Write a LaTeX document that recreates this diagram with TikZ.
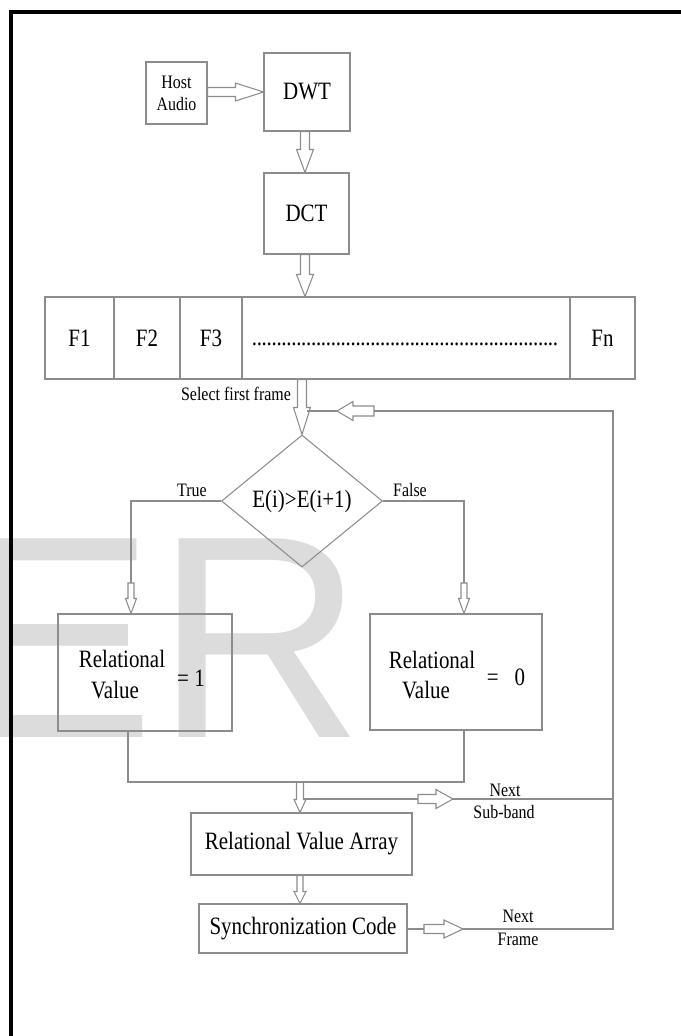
\documentclass[tikz,border=0pt]{standalone}
\usepackage{fontspec}
\setmainfont{Liberation Serif}[FakeStretch=0.84]
\newfontfamily\wmfont{Liberation Sans}
\usetikzlibrary{shapes.geometric,calc}
\newdimen\pxu \pxu=0.02cm
\definecolor{lineclr}{RGB}{140,140,140}
\definecolor{wmclr}{RGB}{220,220,220}
\newcommand\bigf{\fontsize{14.2pt}{17pt}\selectfont}
\newcommand\smallf{\fontsize{10.8pt}{12.5pt}\selectfont}
\newcommand\dotrow{\makebox[306\pxu]{\xleaders\hbox to 4.9\pxu{\hss.\hss}\hfill}}
% hollow block arrows: #1 start, #2 tip, #3 shaft half width, #4 head half width, #5 head length
\newcommand\darr[5]{\draw[blk] ($(#1)+(-#3,0)$) -- ($(#2)+(-#3,-#5)$) -- ($(#2)+(-#4,-#5)$) -- (#2) -- ($(#2)+(#4,-#5)$) -- ($(#2)+(#3,-#5)$) -- ($(#1)+(#3,0)$) -- cycle;}
\newcommand\rarr[5]{\draw[blk] ($(#1)+(0,-#3)$) -- ($(#2)+(-#5,-#3)$) -- ($(#2)+(-#5,-#4)$) -- (#2) -- ($(#2)+(-#5,#4)$) -- ($(#2)+(-#5,#3)$) -- ($(#1)+(0,#3)$) -- cycle;}
\newcommand\larr[5]{\draw[blk] ($(#1)+(0,-#3)$) -- ($(#2)+(#5,-#3)$) -- ($(#2)+(#5,-#4)$) -- (#2) -- ($(#2)+(#5,#4)$) -- ($(#2)+(#5,#3)$) -- ($(#1)+(0,#3)$) -- cycle;}
\tikzset{
  sz/.style 2 args={minimum width=#1*0.02cm, minimum height=#2*0.02cm},
  box/.style={draw=lineclr, line width=0.6pt, rectangle, inner sep=0pt, text=black, align=center},
  blk/.style={draw=lineclr, line width=0.6pt, line join=miter},
  conn/.style={draw=lineclr, line width=0.6pt},
  lbl/.style={inner sep=0pt, text=black, anchor=base},
}
\begin{document}
\begin{tikzpicture}[x=0.02cm, y=-0.02cm]
\useasboundingbox (0,0) rectangle (681,1036);
% watermark
\begin{scope}
\clip (0,0) rectangle (681,1036);
\node[inner sep=0pt, anchor=base west, text=wmclr, font=\wmfont\fontsize{164.4pt}{164pt}\selectfont] (wm) at (-38,737) {ER};
\end{scope}
% outer frame
\draw[line width=2pt, black, line join=miter] (11,1036) -- (11,12) -- (681,12);
% boxes
\node[box, sz={61}{62}, font=\smallf] (host) at (176.5,93) {Host\\Audio};
\node[box, sz={86}{78}, font=\bigf] (dwt) at (307,92) {DWT};
\node[box, sz={85}{81}, font=\bigf] (dct) at (306.5,213.5) {DCT};
\node[box, sz={69}{82}, font=\bigf] (f1) at (79.5,338) {F1};
\node[box, sz={66}{82}, font=\bigf] (f2) at (147,338) {F2};
\node[box, sz={62}{82}, font=\bigf] (f3) at (211,338) {F3};
\node[box, sz={328}{82}] (fd) at (406,338) {};
\node[lbl, font=\bigf] (dots) at (405,345) {\dotrow};
\node[box, sz={65}{82}, font=\bigf] (fn) at (602.5,338) {Fn};
\node[lbl, font=\smallf] (sel) at (236,400) {Select first frame};
\node[draw=lineclr, line width=0.6pt, diamond, inner sep=0pt, sz={161}{132}, font=\bigf] (d) at (302,501) {E(i)>E(i+1)};
\node[lbl, font=\smallf] (tlab) at (192,496) {True};
\node[lbl, font=\smallf] (flab) at (410,496) {False};
\node[box, sz={174}{117}] (rv1) at (145,672.5) {};
\node[lbl, font=\bigf] (rv1a) at (122,667) {Relational};
\node[lbl, font=\bigf] (rv1b) at (115,698) {Value};
\node[lbl, font=\bigf] (rv1c) at (191,686) {= 1};
\node[box, sz={172}{116}] (rv0) at (456,672) {};
\node[lbl, font=\bigf] (rv0a) at (432,668) {Relational};
\node[lbl, font=\bigf] (rv0b) at (426,698) {Value};
\node[lbl, font=\bigf] (rv0c) at (506,685) {= \ \ 0};
\node[box, sz={221}{62}, font=\bigf] (rva) at (301.5,844) {Relational Value Array};
\node[box, sz={208}{49}, font=\bigf] (sync) at (303,928.5) {Synchronization Code};
\node[lbl, font=\smallf] (nsb1) at (505,796) {Next};
\node[lbl, font=\smallf] (nsb2) at (504,818) {Sub-band};
\node[lbl, font=\smallf] (nfr1) at (518,922) {Next};
\node[lbl, font=\smallf] (nfr2) at (518,945) {Frame};
% axes and points
\coordinate (axis) at (305,0);
\coordinate (ax2) at (300,0);
\coordinate (ha) at (host.east |- dwt.west);
\coordinate (a1s) at (dwt.south -| axis);
\coordinate (a1t) at (dct.north -| axis);
\coordinate (a2s) at (dct.south -| axis);
\coordinate (a2t) at (fd.north -| axis);
\coordinate (a3s) at (fd.south -| d.north);
% top arrows
\rarr{ha}{dwt.west}{4.5}{9}{28}
\darr{a1s}{a1t}{4.5}{8.5}{23}
\darr{a2s}{a2t}{4.5}{8.5}{22}
\darr{a3s}{d.north}{4.5}{8.5}{27}
% branches
\coordinate (tx) at (131,0);
\coordinate (fx) at (464,0);
\coordinate (ts) at (131,583);
\coordinate (fs) at (464,583);
\coordinate (tt) at (rv1.north -| tx);
\coordinate (ft) at (rv0.north -| fx);
\draw[conn] (d.west) -| (ts);
\draw[conn] (d.east) -| (fs);
\darr{ts}{tt}{3}{5.5}{15}
\darr{fs}{ft}{3}{5.5}{15}
% merge
\coordinate (m1) at (128,782);
\coordinate (m2) at (464,782);
\draw[conn] (rv1.south -| m1) -- (m1) -- (m2) -- (rv0.south -| m2);
\coordinate (a4s) at (m1 -| ax2);
\coordinate (a4t) at (rva.north -| ax2);
\darr{a4s}{a4t}{3.5}{6}{13}
\coordinate (a5s) at (rva.south -| ax2);
\coordinate (a5t) at (sync.north -| ax2);
\darr{a5s}{a5t}{3}{6}{12}
% next sub-band
\coordinate (sb0) at (303.5,799);
\coordinate (sb1) at (418,799);
\coordinate (sb2) at (453,799);
\coordinate (sb3) at (613,799);
\draw[conn] (sb0) -- (sb1);
\rarr{sb1}{sb2}{4.5}{9.5}{17}
\draw[conn] (sb2) -- (sb3);
% next frame and feedback
\coordinate (nf1) at (424,929);
\coordinate (nf2) at (463,929);
\coordinate (nf3) at (613,929);
\coordinate (fb0) at (613,411);
\coordinate (fb1) at (374,411);
\coordinate (fb2) at (337,411);
\coordinate (fb3) at ($(d.north |- fb2)+(4.5,0)$);
\draw[conn] (sync.east |- nf1) -- (nf1);
\rarr{nf1}{nf2}{4.5}{9}{19}
\draw[conn] (nf2) -- (nf3) -- (fb0) -- (fb1);
\larr{fb1}{fb2}{5}{9.5}{16}
\draw[conn] (fb2) -- (fb3);
\end{tikzpicture}
\end{document}
